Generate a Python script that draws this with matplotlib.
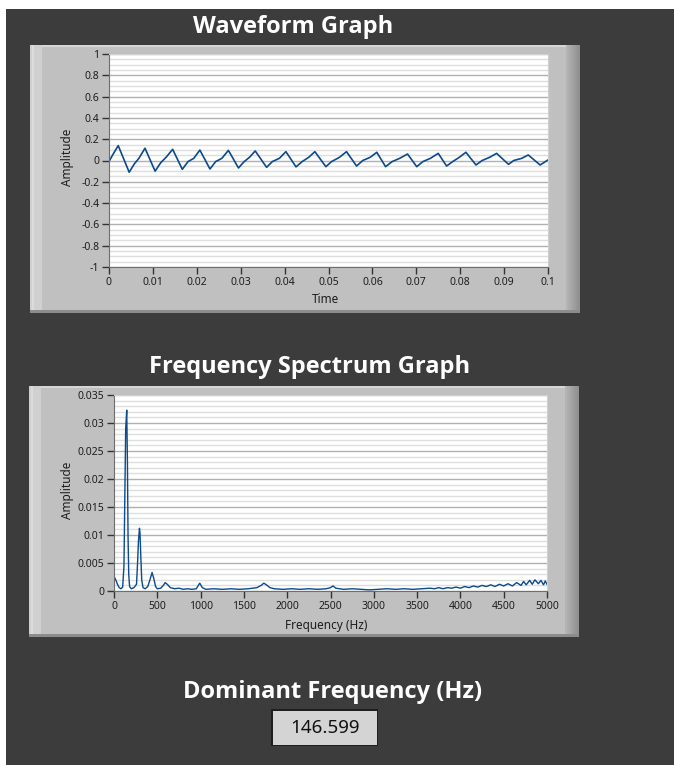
import matplotlib.pyplot as plt
from matplotlib.patches import Rectangle
from matplotlib.ticker import MultipleLocator

# waveform samples (time s, amplitude)
wave_t = [0.0, 0.0008, 0.0021,
          0.0046, 0.0058, 0.0068, 0.0082,
          0.0105, 0.0118, 0.0130, 0.0145,
          0.0167, 0.0180, 0.0193, 0.0207,
          0.0230, 0.0243, 0.0257, 0.0272,
          0.0295, 0.0308, 0.0320, 0.0333,
          0.0359, 0.0372, 0.0388, 0.0403,
          0.0426, 0.0440, 0.0455, 0.0469,
          0.0494, 0.0507, 0.0525, 0.0541,
          0.0564, 0.0578, 0.0595, 0.0610,
          0.0630, 0.0645, 0.0662, 0.0680,
          0.0701, 0.0715, 0.0732, 0.0750,
          0.0769, 0.0783, 0.0798, 0.0813,
          0.0836, 0.0850, 0.0867, 0.0883,
          0.0910, 0.0922, 0.0940, 0.0955,
          0.0982, 0.1000]
wave_v = [-0.01, 0.05, 0.14,
          -0.11, -0.03, 0.02, 0.115,
          -0.10, -0.02, 0.03, 0.105,
          -0.083, -0.01, 0.02, 0.098,
          -0.08, -0.01, 0.02, 0.095,
          -0.07, -0.01, 0.03, 0.09,
          -0.064, -0.01, 0.02, 0.083,
          -0.06, -0.01, 0.03, 0.083,
          -0.058, -0.01, 0.03, 0.083,
          -0.052, 0.0, 0.03, 0.077,
          -0.058, -0.01, 0.02, 0.061,
          -0.058, -0.01, 0.02, 0.067,
          -0.052, -0.01, 0.03, 0.077,
          -0.042, 0.0, 0.03, 0.067,
          -0.036, 0.0, 0.02, 0.052,
          -0.042, 0.005]

# spectrum (Hz, amplitude)
spec_points = [
    (0, 0.0026), (20, 0.0020), (40, 0.0012), (60, 0.0006), (80, 0.0004),
    (100, 0.0007), (115, 0.0045), (125, 0.0168), (135, 0.0290), (147, 0.0323),
    (155, 0.0230), (162, 0.0100), (170, 0.0030), (180, 0.0008), (200, 0.0004),
    (230, 0.0006), (260, 0.0012), (272, 0.0050), (282, 0.0088), (294, 0.0112),
    (300, 0.0104), (310, 0.0060), (320, 0.0020), (335, 0.0006), (360, 0.0004),
    (390, 0.0008), (415, 0.0020), (440, 0.0033), (460, 0.0022), (480, 0.0008),
    (500, 0.0004), (540, 0.0005), (570, 0.0010), (590, 0.0015), (615, 0.0012),
    (650, 0.0006), (700, 0.0004), (750, 0.0005), (800, 0.0003), (850, 0.0004),
    (900, 0.0003), (950, 0.0004), (990, 0.0014), (1020, 0.0006), (1060, 0.0003),
    (1150, 0.0004), (1250, 0.0003), (1350, 0.0004), (1450, 0.0003), (1550, 0.0004),
    (1650, 0.0006), (1700, 0.0010), (1730, 0.0014), (1760, 0.0011), (1800, 0.0006),
    (1850, 0.0004), (1950, 0.0003), (2050, 0.0004), (2150, 0.0003), (2250, 0.0004),
    (2350, 0.0003), (2450, 0.0004), (2500, 0.0006), (2530, 0.0009), (2560, 0.0005),
    (2650, 0.0003), (2750, 0.0004), (2850, 0.0003), (2950, 0.0002), (3050, 0.0003),
    (3150, 0.0004), (3250, 0.0003), (3350, 0.0004), (3450, 0.0003), (3550, 0.0004),
    (3650, 0.0005), (3700, 0.0004), (3750, 0.0006), (3800, 0.0004), (3850, 0.0006),
    (3900, 0.0005), (3950, 0.0007), (4000, 0.0005), (4050, 0.0008), (4100, 0.0006),
    (4150, 0.0009), (4200, 0.0007), (4250, 0.0010), (4300, 0.0008), (4350, 0.0011),
    (4400, 0.0008), (4450, 0.0012), (4500, 0.0009), (4550, 0.0013), (4600, 0.0009),
    (4650, 0.0015), (4700, 0.0010), (4730, 0.0017), (4760, 0.0011), (4800, 0.0019),
    (4830, 0.0012), (4860, 0.0020), (4900, 0.0013), (4930, 0.0019), (4960, 0.0011),
    (4980, 0.0018), (5000, 0.0012)]
spec_f = [p[0] for p in spec_points]
spec_a = [p[1] for p in spec_points]

wave_xticks = [0, 0.01, 0.02, 0.03, 0.04, 0.05, 0.06, 0.07, 0.08, 0.09, 0.1]
wave_xlabels = ['0', '0.01', '0.02', '0.03', '0.04', '0.05', '0.06', '0.07', '0.08', '0.09', '0.1']
wave_yticks = [1, 0.8, 0.6, 0.4, 0.2, 0, -0.2, -0.4, -0.6, -0.8, -1]
wave_ylabels = ['1', '0.8', '0.6', '0.4', '0.2', '0', '-0.2', '-0.4', '-0.6', '-0.8', '-1']
spec_xticks = [0, 500, 1000, 1500, 2000, 2500, 3000, 3500, 4000, 4500, 5000]
spec_xlabels = [str(v) for v in spec_xticks]
spec_yticks = [0.035, 0.03, 0.025, 0.02, 0.015, 0.01, 0.005, 0]
spec_ylabels = ['0.035', '0.03', '0.025', '0.02', '0.015', '0.01', '0.005', '0']

dominant = '146.599'

W, H = 674, 765
fig = plt.figure(figsize=(W / 100, H / 100), dpi=100)
fig.patch.set_facecolor('white')


def box(x, y, w, h):
    # pixel box with top-left origin -> figure fraction
    return [x / W, 1 - (y + h) / H, w / W, h / H]


def rect(x, y, w, h, color, z=-5, **kw):
    l, b, ww, hh = box(x, y, w, h)
    fig.add_artist(Rectangle((l, b), ww, hh, transform=fig.transFigure,
                             facecolor=color, edgecolor='none', zorder=z, **kw))


def ftext(x, y, s, **kw):
    fig.text(x / W, 1 - y / H, s, ha='center', va='center', **kw)


rect(6, 9, W - 6, H - 9, '#3c3c3c', z=-10)


def panel(x, y, w, h):
    rect(x, y, w, h, '#c0c0c0')
    rect(x, y, w, 2, '#d6d6d6', z=-4)
    rect(x, y, 12, h, '#d0d0d0', z=-4)
    rect(x + 2, y, 2, h, '#dcdcdc', z=-4)
    shades = ['#b4b4b4', '#aeaeae', '#a8a8a8', '#a2a2a2', '#9c9c9c', '#969696', '#909090']
    for i, c in enumerate(shades):
        rect(x + w - 14 + 2 * i, y, 2, h, c, z=-4)
    rect(x, y + h - 3, w, 3, '#8c8c8c', z=-3)


panel(30, 45, 550, 268)
panel(29, 386, 550, 251)

TITLE = dict(color='white', fontsize=17, fontweight='bold', family=['Open Sans', 'DejaVu Sans'])
ftext(293, 27, 'Waveform Graph', **TITLE)
ftext(310, 367, 'Frequency Spectrum Graph', **TITLE)
ftext(333, 692, 'Dominant Frequency (Hz)', **TITLE)

TICKFONT = ['Noto Sans', 'DejaVu Sans']
LABEL = dict(color='#1e1e1e', fontsize=8.5, family=TICKFONT)


def style(ax, xticks, xlabels, yticks, ylabels, minor):
    ax.set_facecolor('white')
    ax.set_axisbelow(True)
    ax.set_xticks(xticks, xlabels)
    ax.set_yticks(yticks, ylabels)
    ax.yaxis.set_minor_locator(MultipleLocator(minor))
    ax.grid(which='major', axis='y', color='#b0b0b0', lw=1.0)
    ax.grid(which='minor', axis='y', color='#dedede', lw=1.0)
    ax.grid(which='major', axis='x', visible=False)
    ax.tick_params(which='major', direction='out', length=5, width=1,
                   color='#333333', labelsize=7.5, labelcolor='#1e1e1e', pad=2)
    ax.tick_params(which='minor', length=0)
    for lab in ax.get_xticklabels() + ax.get_yticklabels():
        lab.set_family(TICKFONT)
    for side in ['top', 'right']:
        ax.spines[side].set_color('#d0d0d0')
        ax.spines[side].set_linewidth(0.8)
    for side in ['left', 'bottom']:
        ax.spines[side].set_color('#6e6e6e')
        ax.spines[side].set_linewidth(0.8)


ax1 = fig.add_axes(box(109, 54, 439, 213))
ax1.plot(wave_t, wave_v, color='#0b4a8b', lw=1.2)
ax1.set_xlim(0, 0.1)
ax1.set_ylim(-1, 1)
style(ax1, wave_xticks, wave_xlabels, wave_yticks, wave_ylabels, 0.05)
ftext(68, 157, 'Amplitude', rotation=90, **LABEL)
ftext(326, 300, 'Time', **LABEL)

ax2 = fig.add_axes(box(114, 395, 433, 196))
ax2.plot(spec_f, spec_a, color='#0b4a8b', lw=1.0)
ax2.set_xlim(0, 5000)
ax2.set_ylim(0, 0.035)
style(ax2, spec_xticks, spec_xlabels, spec_yticks, spec_ylabels, 0.001)
ftext(67, 490, 'Amplitude', rotation=90, **LABEL)
ftext(326, 625, 'Frequency (Hz)', **LABEL)

# numeric indicator
rect(271, 709, 107, 37, '#1e1e1e', z=-4)
rect(273, 711, 104, 34, '#d4d4d4', z=-3)
ftext(325, 728, dominant, color='#111111', fontsize=13.5, family=TICKFONT)

fig.savefig('out.png', dpi=100, facecolor=fig.get_facecolor())
